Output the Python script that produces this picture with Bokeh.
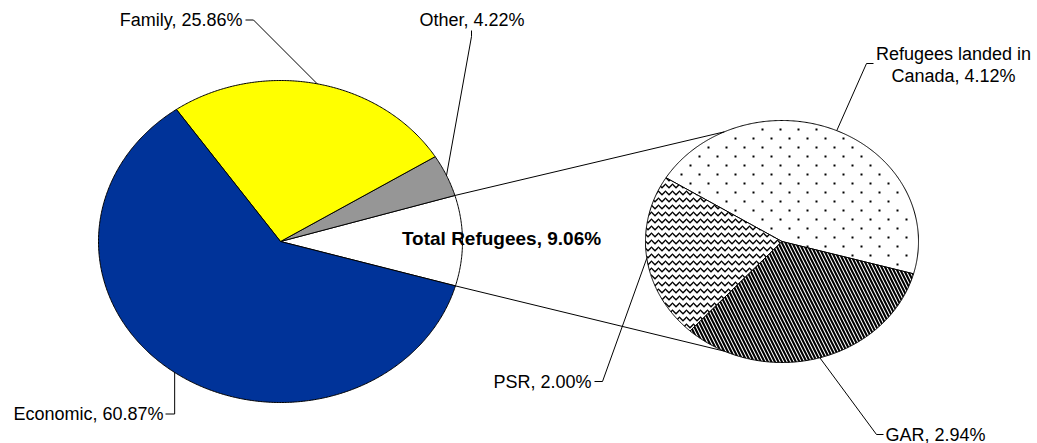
import numpy as np
from bokeh.plotting import figure
from bokeh.models import Range1d
from bokeh.core.properties import value
from bokeh.embed import file_html
from bokeh.resources import INLINE

# ---- data ----
main_labels = ["Economic", "Family", "Other", "Total Refugees"]
main_values = [60.87, 25.86, 4.22, 9.06]
main_colors = ["#003399", "#FFFF00", "#969696", "#FFFFFF"]

sub_labels = ["Refugees landed in\nCanada", "GAR", "PSR"]
sub_values = [4.12, 2.94, 2.00]
sub_hatch = [None, "left_diagonal_line", "horizontal_wave"]   # None -> sparse dot texture

# ---- layout ----
W, H = 1037, 443
MX, MY, MRX, MRY = 280, 241, 182, 161
SX, SY, SRX, SRY = 781.5, 241, 136.5, 121
MAIN_ORDER = [3, 2, 1, 0]
MAIN_START = -16.0
SUB_ORDER = [0, 2, 1]
SUB_START = -15.5
FONT = value("Liberation Sans")

p = figure(width=W, height=H, output_backend="svg", toolbar_location=None,
           x_range=Range1d(0, W), y_range=Range1d(H, 0),
           x_axis_type=None, y_axis_type=None, min_border=0)
p.grid.visible = False
p.outline_line_color = None
p.background_fill_color = "white"
p.border_fill_color = "white"


def angles(values, order, start):
    tot = sum(values)
    res = {}
    a = start
    for i in order:
        span = 360.0 * values[i] / tot
        res[i] = (a, a + span)
        a += span
    return res


def wedge(cx, cy, rx, ry, a0, a1):
    n = max(int(abs(a1 - a0) * 2), 8)
    t = np.radians(np.linspace(a0, a1, n))
    xs = [cx] + list(cx + rx * np.cos(t))
    ys = [cy] + list(cy - ry * np.sin(t))
    return xs, ys


def edge(cx, cy, rx, ry, a):
    t = np.radians(a)
    return cx + rx * np.cos(t), cy - ry * np.sin(t)


def dot_texture(cx, cy, rx, ry, a0, a1, step=9.0):
    """Sparse staggered dot fill (like Excel's 5% pattern) inside an elliptical sector."""
    px, py = [], []
    rows = np.arange(cy - ry, cy + ry + step, step)
    for r, yy in enumerate(rows):
        off = (r % 2) * step
        for xx in np.arange(cx - rx - 2 * step + off, cx + rx + 2 * step, 2 * step):
            u, v = (xx - cx) / rx, (cy - yy) / ry
            if u * u + v * v > 0.93:
                continue
            ang = np.degrees(np.arctan2(v, u))
            while ang < a0:
                ang += 360
            while ang >= a0 + 360:
                ang -= 360
            if ang > a0 + 2 and ang < a1 - 2 and (u * u + v * v) > 0.004:
                px.append(xx); py.append(yy)
    return px, py


main_ang = angles(main_values, MAIN_ORDER, MAIN_START)
sub_ang = angles(sub_values, SUB_ORDER, SUB_START)

# main pie
for i in MAIN_ORDER:
    xs, ys = wedge(MX, MY, MRX, MRY, *main_ang[i])
    p.patch(xs, ys, fill_color=main_colors[i], line_color="black", line_width=1)

# secondary pie
hs = {"left_diagonal_line": (7, 2.1), "horizontal_wave": (7, 1.3)}
for i in SUB_ORDER:
    xs, ys = wedge(SX, SY, SRX, SRY, *sub_ang[i])
    if sub_hatch[i] is None:
        p.patch(xs, ys, fill_color="white", line_color="black", line_width=1)
        dx, dy = dot_texture(SX, SY, SRX, SRY, *sub_ang[i])
        p.scatter(dx, dy, marker="square", size=2, fill_color="black", line_color=None)
    else:
        sc, wt = hs[sub_hatch[i]]
        p.patch(xs, ys, fill_color="white", line_color="black", line_width=1,
                hatch_pattern=sub_hatch[i], hatch_color="black",
                hatch_scale=sc, hatch_weight=wt)

# connector lines
ref_a0, ref_a1 = main_ang[3]
u0 = edge(MX, MY, MRX, MRY, ref_a1)
u1 = edge(SX, SY, SRX, SRY, 115)
l0 = edge(MX, MY, MRX, MRY, ref_a0)
l1 = edge(SX, SY, SRX, SRY, 245)
p.multi_line([[u0[0], u1[0]], [l0[0], l1[0]]], [[u0[1], u1[1]], [l0[1], l1[1]]],
             line_color="black", line_width=1)


def mid(angs, i):
    return 0.5 * (angs[i][0] + angs[i][1])


def label_text(lbl, v):
    return f"{lbl}, {v:.2f}%"


def put(x, y, txt, align, size="18px", style="normal"):
    p.text([x], [y], text=[txt], text_align=align, text_baseline="middle",
           text_font=FONT, text_font_size=size, text_font_style=style,
           text_color="black")


lx, ly = [], []

# Economic
e = edge(MX, MY, MRX, MRY, mid(main_ang, 0))
lx.append([e[0], e[0], 165]); ly.append([e[1], 413.5, 413.5])
put(163, 413.5, label_text(main_labels[0], main_values[0]), "right")

# Family
e = edge(MX, MY, MRX, MRY, mid(main_ang, 1))
lx.append([e[0], 253, 245]); ly.append([e[1], 19.5, 19.5])
put(242, 19.5, label_text(main_labels[1], main_values[1]), "right")

# Other
e = edge(MX, MY, MRX, MRY, mid(main_ang, 2))
lx.append([e[0], 471, 471]); ly.append([e[1], 36, 30])
put(419, 19, label_text(main_labels[2], main_values[2]), "left")

# Total Refugees (inside)
put(501, 238, label_text(main_labels[3], main_values[3]), "center", "19px", "bold")

# Refugees landed in Canada
e = edge(SX, SY, SRX, SRY, mid(sub_ang, 0))
lx.append([e[0], 866, 873]); ly.append([e[1], 63, 63])
lines = label_text(sub_labels[0], sub_values[0]).split("\n")
for k, ln in enumerate(lines):
    put(953, 53.5 + 21.5 * k, ln, "center")

# PSR
e = edge(SX, SY, SRX, SRY, mid(sub_ang, 2))
lx.append([e[0], 602, 594]); ly.append([e[1], 381, 381])
put(591, 381, label_text(sub_labels[2], sub_values[2]), "right")

# GAR
e = edge(SX, SY, SRX, SRY, mid(sub_ang, 1))
lx.append([e[0], 876, 883]); ly.append([e[1], 434, 434])
put(885, 434, label_text(sub_labels[1], sub_values[1]), "left")

p.multi_line(lx, ly, line_color="black", line_width=1)

open("out.html", "w").write(file_html(p, INLINE))
